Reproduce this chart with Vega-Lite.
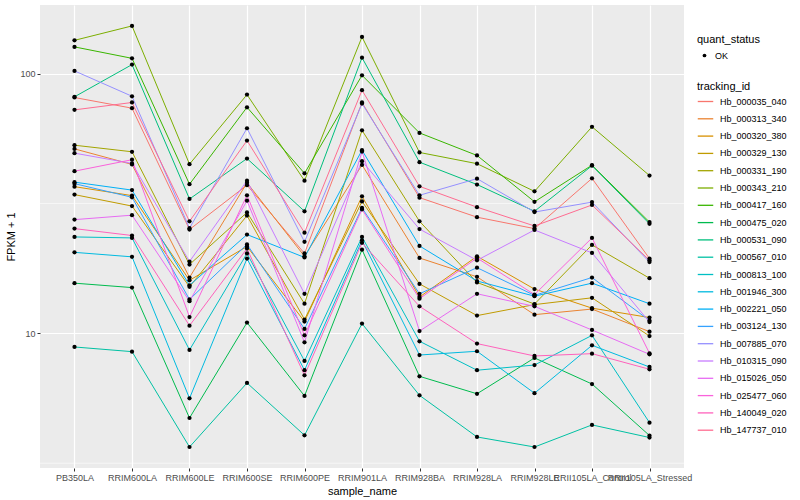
{
"$schema":"https://vega.github.io/schema/vega-lite/v6.json",
"width":644,"height":463,
"autosize":{"type":"none"},
"padding":{"left":40,"top":5,"right":116,"bottom":32},
"config":{"view":{"fill":"#EBEBEB","stroke":null},"font":"Liberation Sans",
"axis":{"domain":false,"grid":true,"gridColor":"#FFFFFF","gridWidth":1.2,"tickColor":"#333333","tickSize":3,"labelColor":"#4D4D4D","labelFontSize":9,"titleFontSize":11,"titleFontWeight":"normal","titleColor":"#000000"},
"legend":{"titleFontSize":11,"titleFontWeight":"normal","labelFontSize":9,"labelColor":"#000000","titleColor":"#000000","labelOffset":6}},
"datasets":{"d":[
{"tracking_id":"Hb_000035_040","sample_name":"PB350LA","fpkm":80.9,"quant_status":"OK"},
{"tracking_id":"Hb_000035_040","sample_name":"RRIM600LA","fpkm":73.6,"quant_status":"OK"},
{"tracking_id":"Hb_000035_040","sample_name":"RRIM600LE","fpkm":25.1,"quant_status":"OK"},
{"tracking_id":"Hb_000035_040","sample_name":"RRIM600SE","fpkm":37.2,"quant_status":"OK"},
{"tracking_id":"Hb_000035_040","sample_name":"RRIM600PE","fpkm":20.3,"quant_status":"OK"},
{"tracking_id":"Hb_000035_040","sample_name":"RRIM901LA","fpkm":77.4,"quant_status":"OK"},
{"tracking_id":"Hb_000035_040","sample_name":"RRIM928BA","fpkm":33.3,"quant_status":"OK"},
{"tracking_id":"Hb_000035_040","sample_name":"RRIM928LA","fpkm":28.0,"quant_status":"OK"},
{"tracking_id":"Hb_000035_040","sample_name":"RRIM928LE","fpkm":25.3,"quant_status":"OK"},
{"tracking_id":"Hb_000035_040","sample_name":"RRII105LA_Control","fpkm":39.5,"quant_status":"OK"},
{"tracking_id":"Hb_000035_040","sample_name":"RRII105LA_Stressed","fpkm":19.4,"quant_status":"OK"},
{"tracking_id":"Hb_000313_340","sample_name":"PB350LA","fpkm":51.3,"quant_status":"OK"},
{"tracking_id":"Hb_000313_340","sample_name":"RRIM600LA","fpkm":44.7,"quant_status":"OK"},
{"tracking_id":"Hb_000313_340","sample_name":"RRIM600LE","fpkm":16.4,"quant_status":"OK"},
{"tracking_id":"Hb_000313_340","sample_name":"RRIM600SE","fpkm":38.0,"quant_status":"OK"},
{"tracking_id":"Hb_000313_340","sample_name":"RRIM600PE","fpkm":19.8,"quant_status":"OK"},
{"tracking_id":"Hb_000313_340","sample_name":"RRIM901LA","fpkm":44.5,"quant_status":"OK"},
{"tracking_id":"Hb_000313_340","sample_name":"RRIM928BA","fpkm":19.5,"quant_status":"OK"},
{"tracking_id":"Hb_000313_340","sample_name":"RRIM928LA","fpkm":16.5,"quant_status":"OK"},
{"tracking_id":"Hb_000313_340","sample_name":"RRIM928LE","fpkm":11.8,"quant_status":"OK"},
{"tracking_id":"Hb_000313_340","sample_name":"RRII105LA_Control","fpkm":12.4,"quant_status":"OK"},
{"tracking_id":"Hb_000313_340","sample_name":"RRII105LA_Stressed","fpkm":10.15,"quant_status":"OK"},
{"tracking_id":"Hb_000320_380","sample_name":"PB350LA","fpkm":36.7,"quant_status":"OK"},
{"tracking_id":"Hb_000320_380","sample_name":"RRIM600LA","fpkm":33.9,"quant_status":"OK"},
{"tracking_id":"Hb_000320_380","sample_name":"RRIM600LE","fpkm":16.0,"quant_status":"OK"},
{"tracking_id":"Hb_000320_380","sample_name":"RRIM600SE","fpkm":21.6,"quant_status":"OK"},
{"tracking_id":"Hb_000320_380","sample_name":"RRIM600PE","fpkm":11.1,"quant_status":"OK"},
{"tracking_id":"Hb_000320_380","sample_name":"RRIM901LA","fpkm":33.7,"quant_status":"OK"},
{"tracking_id":"Hb_000320_380","sample_name":"RRIM928BA","fpkm":13.8,"quant_status":"OK"},
{"tracking_id":"Hb_000320_380","sample_name":"RRIM928LA","fpkm":19.8,"quant_status":"OK"},
{"tracking_id":"Hb_000320_380","sample_name":"RRIM928LE","fpkm":14.8,"quant_status":"OK"},
{"tracking_id":"Hb_000320_380","sample_name":"RRII105LA_Control","fpkm":12.5,"quant_status":"OK"},
{"tracking_id":"Hb_000320_380","sample_name":"RRII105LA_Stressed","fpkm":11.5,"quant_status":"OK"},
{"tracking_id":"Hb_000329_130","sample_name":"PB350LA","fpkm":34.2,"quant_status":"OK"},
{"tracking_id":"Hb_000329_130","sample_name":"RRIM600LA","fpkm":30.9,"quant_status":"OK"},
{"tracking_id":"Hb_000329_130","sample_name":"RRIM600LE","fpkm":15.1,"quant_status":"OK"},
{"tracking_id":"Hb_000329_130","sample_name":"RRIM600SE","fpkm":28.4,"quant_status":"OK"},
{"tracking_id":"Hb_000329_130","sample_name":"RRIM600PE","fpkm":11.3,"quant_status":"OK"},
{"tracking_id":"Hb_000329_130","sample_name":"RRIM901LA","fpkm":32.2,"quant_status":"OK"},
{"tracking_id":"Hb_000329_130","sample_name":"RRIM928BA","fpkm":15.5,"quant_status":"OK"},
{"tracking_id":"Hb_000329_130","sample_name":"RRIM928LA","fpkm":11.7,"quant_status":"OK"},
{"tracking_id":"Hb_000329_130","sample_name":"RRIM928LE","fpkm":12.9,"quant_status":"OK"},
{"tracking_id":"Hb_000329_130","sample_name":"RRII105LA_Control","fpkm":13.7,"quant_status":"OK"},
{"tracking_id":"Hb_000329_130","sample_name":"RRII105LA_Stressed","fpkm":9.76,"quant_status":"OK"},
{"tracking_id":"Hb_000331_190","sample_name":"PB350LA","fpkm":53.0,"quant_status":"OK"},
{"tracking_id":"Hb_000331_190","sample_name":"RRIM600LA","fpkm":50.0,"quant_status":"OK"},
{"tracking_id":"Hb_000331_190","sample_name":"RRIM600LE","fpkm":18.4,"quant_status":"OK"},
{"tracking_id":"Hb_000331_190","sample_name":"RRIM600SE","fpkm":29.2,"quant_status":"OK"},
{"tracking_id":"Hb_000331_190","sample_name":"RRIM600PE","fpkm":13.0,"quant_status":"OK"},
{"tracking_id":"Hb_000331_190","sample_name":"RRIM901LA","fpkm":60.5,"quant_status":"OK"},
{"tracking_id":"Hb_000331_190","sample_name":"RRIM928BA","fpkm":27.0,"quant_status":"OK"},
{"tracking_id":"Hb_000331_190","sample_name":"RRIM928LA","fpkm":15.7,"quant_status":"OK"},
{"tracking_id":"Hb_000331_190","sample_name":"RRIM928LE","fpkm":12.96,"quant_status":"OK"},
{"tracking_id":"Hb_000331_190","sample_name":"RRII105LA_Control","fpkm":21.9,"quant_status":"OK"},
{"tracking_id":"Hb_000331_190","sample_name":"RRII105LA_Stressed","fpkm":16.3,"quant_status":"OK"},
{"tracking_id":"Hb_000343_210","sample_name":"PB350LA","fpkm":134.3,"quant_status":"OK"},
{"tracking_id":"Hb_000343_210","sample_name":"RRIM600LA","fpkm":152.6,"quant_status":"OK"},
{"tracking_id":"Hb_000343_210","sample_name":"RRIM600LE","fpkm":44.8,"quant_status":"OK"},
{"tracking_id":"Hb_000343_210","sample_name":"RRIM600SE","fpkm":83.0,"quant_status":"OK"},
{"tracking_id":"Hb_000343_210","sample_name":"RRIM600PE","fpkm":38.7,"quant_status":"OK"},
{"tracking_id":"Hb_000343_210","sample_name":"RRIM901LA","fpkm":138.4,"quant_status":"OK"},
{"tracking_id":"Hb_000343_210","sample_name":"RRIM928BA","fpkm":49.7,"quant_status":"OK"},
{"tracking_id":"Hb_000343_210","sample_name":"RRIM928LA","fpkm":45.0,"quant_status":"OK"},
{"tracking_id":"Hb_000343_210","sample_name":"RRIM928LE","fpkm":35.2,"quant_status":"OK"},
{"tracking_id":"Hb_000343_210","sample_name":"RRII105LA_Control","fpkm":62.4,"quant_status":"OK"},
{"tracking_id":"Hb_000343_210","sample_name":"RRII105LA_Stressed","fpkm":40.5,"quant_status":"OK"},
{"tracking_id":"Hb_000417_160","sample_name":"PB350LA","fpkm":126.7,"quant_status":"OK"},
{"tracking_id":"Hb_000417_160","sample_name":"RRIM600LA","fpkm":114.5,"quant_status":"OK"},
{"tracking_id":"Hb_000417_160","sample_name":"RRIM600LE","fpkm":37.5,"quant_status":"OK"},
{"tracking_id":"Hb_000417_160","sample_name":"RRIM600SE","fpkm":74.2,"quant_status":"OK"},
{"tracking_id":"Hb_000417_160","sample_name":"RRIM600PE","fpkm":41.3,"quant_status":"OK"},
{"tracking_id":"Hb_000417_160","sample_name":"RRIM901LA","fpkm":98.5,"quant_status":"OK"},
{"tracking_id":"Hb_000417_160","sample_name":"RRIM928BA","fpkm":59.1,"quant_status":"OK"},
{"tracking_id":"Hb_000417_160","sample_name":"RRIM928LA","fpkm":48.4,"quant_status":"OK"},
{"tracking_id":"Hb_000417_160","sample_name":"RRIM928LE","fpkm":32.1,"quant_status":"OK"},
{"tracking_id":"Hb_000417_160","sample_name":"RRII105LA_Control","fpkm":44.4,"quant_status":"OK"},
{"tracking_id":"Hb_000417_160","sample_name":"RRII105LA_Stressed","fpkm":26.8,"quant_status":"OK"},
{"tracking_id":"Hb_000475_020","sample_name":"PB350LA","fpkm":15.6,"quant_status":"OK"},
{"tracking_id":"Hb_000475_020","sample_name":"RRIM600LA","fpkm":15.0,"quant_status":"OK"},
{"tracking_id":"Hb_000475_020","sample_name":"RRIM600LE","fpkm":4.72,"quant_status":"OK"},
{"tracking_id":"Hb_000475_020","sample_name":"RRIM600SE","fpkm":11.0,"quant_status":"OK"},
{"tracking_id":"Hb_000475_020","sample_name":"RRIM600PE","fpkm":5.74,"quant_status":"OK"},
{"tracking_id":"Hb_000475_020","sample_name":"RRIM901LA","fpkm":21.0,"quant_status":"OK"},
{"tracking_id":"Hb_000475_020","sample_name":"RRIM928BA","fpkm":6.83,"quant_status":"OK"},
{"tracking_id":"Hb_000475_020","sample_name":"RRIM928LA","fpkm":5.85,"quant_status":"OK"},
{"tracking_id":"Hb_000475_020","sample_name":"RRIM928LE","fpkm":8.04,"quant_status":"OK"},
{"tracking_id":"Hb_000475_020","sample_name":"RRII105LA_Control","fpkm":6.38,"quant_status":"OK"},
{"tracking_id":"Hb_000475_020","sample_name":"RRII105LA_Stressed","fpkm":4.04,"quant_status":"OK"},
{"tracking_id":"Hb_000531_090","sample_name":"PB350LA","fpkm":81.4,"quant_status":"OK"},
{"tracking_id":"Hb_000531_090","sample_name":"RRIM600LA","fpkm":108.3,"quant_status":"OK"},
{"tracking_id":"Hb_000531_090","sample_name":"RRIM600LE","fpkm":32.9,"quant_status":"OK"},
{"tracking_id":"Hb_000531_090","sample_name":"RRIM600SE","fpkm":47.1,"quant_status":"OK"},
{"tracking_id":"Hb_000531_090","sample_name":"RRIM600PE","fpkm":29.5,"quant_status":"OK"},
{"tracking_id":"Hb_000531_090","sample_name":"RRIM901LA","fpkm":115.2,"quant_status":"OK"},
{"tracking_id":"Hb_000531_090","sample_name":"RRIM928BA","fpkm":45.6,"quant_status":"OK"},
{"tracking_id":"Hb_000531_090","sample_name":"RRIM928LA","fpkm":37.4,"quant_status":"OK"},
{"tracking_id":"Hb_000531_090","sample_name":"RRIM928LE","fpkm":29.5,"quant_status":"OK"},
{"tracking_id":"Hb_000531_090","sample_name":"RRII105LA_Control","fpkm":44.2,"quant_status":"OK"},
{"tracking_id":"Hb_000531_090","sample_name":"RRII105LA_Stressed","fpkm":26.4,"quant_status":"OK"},
{"tracking_id":"Hb_000567_010","sample_name":"PB350LA","fpkm":8.86,"quant_status":"OK"},
{"tracking_id":"Hb_000567_010","sample_name":"RRIM600LA","fpkm":8.50,"quant_status":"OK"},
{"tracking_id":"Hb_000567_010","sample_name":"RRIM600LE","fpkm":3.65,"quant_status":"OK"},
{"tracking_id":"Hb_000567_010","sample_name":"RRIM600SE","fpkm":6.44,"quant_status":"OK"},
{"tracking_id":"Hb_000567_010","sample_name":"RRIM600PE","fpkm":4.05,"quant_status":"OK"},
{"tracking_id":"Hb_000567_010","sample_name":"RRIM901LA","fpkm":10.9,"quant_status":"OK"},
{"tracking_id":"Hb_000567_010","sample_name":"RRIM928BA","fpkm":5.77,"quant_status":"OK"},
{"tracking_id":"Hb_000567_010","sample_name":"RRIM928LA","fpkm":3.99,"quant_status":"OK"},
{"tracking_id":"Hb_000567_010","sample_name":"RRIM928LE","fpkm":3.65,"quant_status":"OK"},
{"tracking_id":"Hb_000567_010","sample_name":"RRII105LA_Control","fpkm":4.44,"quant_status":"OK"},
{"tracking_id":"Hb_000567_010","sample_name":"RRII105LA_Stressed","fpkm":3.97,"quant_status":"OK"},
{"tracking_id":"Hb_000813_100","sample_name":"PB350LA","fpkm":23.5,"quant_status":"OK"},
{"tracking_id":"Hb_000813_100","sample_name":"RRIM600LA","fpkm":23.3,"quant_status":"OK"},
{"tracking_id":"Hb_000813_100","sample_name":"RRIM600LE","fpkm":8.63,"quant_status":"OK"},
{"tracking_id":"Hb_000813_100","sample_name":"RRIM600SE","fpkm":20.3,"quant_status":"OK"},
{"tracking_id":"Hb_000813_100","sample_name":"RRIM600PE","fpkm":7.83,"quant_status":"OK"},
{"tracking_id":"Hb_000813_100","sample_name":"RRIM901LA","fpkm":23.5,"quant_status":"OK"},
{"tracking_id":"Hb_000813_100","sample_name":"RRIM928BA","fpkm":9.32,"quant_status":"OK"},
{"tracking_id":"Hb_000813_100","sample_name":"RRIM928LA","fpkm":7.21,"quant_status":"OK"},
{"tracking_id":"Hb_000813_100","sample_name":"RRIM928LE","fpkm":7.55,"quant_status":"OK"},
{"tracking_id":"Hb_000813_100","sample_name":"RRII105LA_Control","fpkm":9.82,"quant_status":"OK"},
{"tracking_id":"Hb_000813_100","sample_name":"RRII105LA_Stressed","fpkm":4.53,"quant_status":"OK"},
{"tracking_id":"Hb_001946_300","sample_name":"PB350LA","fpkm":20.5,"quant_status":"OK"},
{"tracking_id":"Hb_001946_300","sample_name":"RRIM600LA","fpkm":19.7,"quant_status":"OK"},
{"tracking_id":"Hb_001946_300","sample_name":"RRIM600LE","fpkm":5.62,"quant_status":"OK"},
{"tracking_id":"Hb_001946_300","sample_name":"RRIM600SE","fpkm":19.4,"quant_status":"OK"},
{"tracking_id":"Hb_001946_300","sample_name":"RRIM600PE","fpkm":7.21,"quant_status":"OK"},
{"tracking_id":"Hb_001946_300","sample_name":"RRIM901LA","fpkm":22.8,"quant_status":"OK"},
{"tracking_id":"Hb_001946_300","sample_name":"RRIM928BA","fpkm":8.25,"quant_status":"OK"},
{"tracking_id":"Hb_001946_300","sample_name":"RRIM928LA","fpkm":8.53,"quant_status":"OK"},
{"tracking_id":"Hb_001946_300","sample_name":"RRIM928LE","fpkm":5.88,"quant_status":"OK"},
{"tracking_id":"Hb_001946_300","sample_name":"RRII105LA_Control","fpkm":8.99,"quant_status":"OK"},
{"tracking_id":"Hb_001946_300","sample_name":"RRII105LA_Stressed","fpkm":7.42,"quant_status":"OK"},
{"tracking_id":"Hb_002221_050","sample_name":"PB350LA","fpkm":38.2,"quant_status":"OK"},
{"tracking_id":"Hb_002221_050","sample_name":"RRIM600LA","fpkm":35.6,"quant_status":"OK"},
{"tracking_id":"Hb_002221_050","sample_name":"RRIM600LE","fpkm":15.3,"quant_status":"OK"},
{"tracking_id":"Hb_002221_050","sample_name":"RRIM600SE","fpkm":24.0,"quant_status":"OK"},
{"tracking_id":"Hb_002221_050","sample_name":"RRIM600PE","fpkm":19.6,"quant_status":"OK"},
{"tracking_id":"Hb_002221_050","sample_name":"RRIM901LA","fpkm":50.7,"quant_status":"OK"},
{"tracking_id":"Hb_002221_050","sample_name":"RRIM928BA","fpkm":21.7,"quant_status":"OK"},
{"tracking_id":"Hb_002221_050","sample_name":"RRIM928LA","fpkm":15.9,"quant_status":"OK"},
{"tracking_id":"Hb_002221_050","sample_name":"RRIM928LE","fpkm":13.9,"quant_status":"OK"},
{"tracking_id":"Hb_002221_050","sample_name":"RRII105LA_Control","fpkm":15.6,"quant_status":"OK"},
{"tracking_id":"Hb_002221_050","sample_name":"RRII105LA_Stressed","fpkm":13.0,"quant_status":"OK"},
{"tracking_id":"Hb_003124_130","sample_name":"PB350LA","fpkm":37.7,"quant_status":"OK"},
{"tracking_id":"Hb_003124_130","sample_name":"RRIM600LA","fpkm":33.4,"quant_status":"OK"},
{"tracking_id":"Hb_003124_130","sample_name":"RRIM600LE","fpkm":13.5,"quant_status":"OK"},
{"tracking_id":"Hb_003124_130","sample_name":"RRIM600SE","fpkm":22.0,"quant_status":"OK"},
{"tracking_id":"Hb_003124_130","sample_name":"RRIM600PE","fpkm":10.4,"quant_status":"OK"},
{"tracking_id":"Hb_003124_130","sample_name":"RRIM901LA","fpkm":30.4,"quant_status":"OK"},
{"tracking_id":"Hb_003124_130","sample_name":"RRIM928BA","fpkm":14.2,"quant_status":"OK"},
{"tracking_id":"Hb_003124_130","sample_name":"RRIM928LA","fpkm":17.9,"quant_status":"OK"},
{"tracking_id":"Hb_003124_130","sample_name":"RRIM928LE","fpkm":14.0,"quant_status":"OK"},
{"tracking_id":"Hb_003124_130","sample_name":"RRII105LA_Control","fpkm":16.4,"quant_status":"OK"},
{"tracking_id":"Hb_003124_130","sample_name":"RRII105LA_Stressed","fpkm":11.2,"quant_status":"OK"},
{"tracking_id":"Hb_007885_070","sample_name":"PB350LA","fpkm":102.4,"quant_status":"OK"},
{"tracking_id":"Hb_007885_070","sample_name":"RRIM600LA","fpkm":81.8,"quant_status":"OK"},
{"tracking_id":"Hb_007885_070","sample_name":"RRIM600LE","fpkm":25.4,"quant_status":"OK"},
{"tracking_id":"Hb_007885_070","sample_name":"RRIM600SE","fpkm":61.6,"quant_status":"OK"},
{"tracking_id":"Hb_007885_070","sample_name":"RRIM600PE","fpkm":22.5,"quant_status":"OK"},
{"tracking_id":"Hb_007885_070","sample_name":"RRIM901LA","fpkm":76.7,"quant_status":"OK"},
{"tracking_id":"Hb_007885_070","sample_name":"RRIM928BA","fpkm":34.0,"quant_status":"OK"},
{"tracking_id":"Hb_007885_070","sample_name":"RRIM928LA","fpkm":39.4,"quant_status":"OK"},
{"tracking_id":"Hb_007885_070","sample_name":"RRIM928LE","fpkm":29.3,"quant_status":"OK"},
{"tracking_id":"Hb_007885_070","sample_name":"RRII105LA_Control","fpkm":32.0,"quant_status":"OK"},
{"tracking_id":"Hb_007885_070","sample_name":"RRII105LA_Stressed","fpkm":18.8,"quant_status":"OK"},
{"tracking_id":"Hb_010315_090","sample_name":"PB350LA","fpkm":49.4,"quant_status":"OK"},
{"tracking_id":"Hb_010315_090","sample_name":"RRIM600LA","fpkm":45.1,"quant_status":"OK"},
{"tracking_id":"Hb_010315_090","sample_name":"RRIM600LE","fpkm":18.9,"quant_status":"OK"},
{"tracking_id":"Hb_010315_090","sample_name":"RRIM600SE","fpkm":38.7,"quant_status":"OK"},
{"tracking_id":"Hb_010315_090","sample_name":"RRIM600PE","fpkm":14.2,"quant_status":"OK"},
{"tracking_id":"Hb_010315_090","sample_name":"RRIM901LA","fpkm":46.0,"quant_status":"OK"},
{"tracking_id":"Hb_010315_090","sample_name":"RRIM928BA","fpkm":25.2,"quant_status":"OK"},
{"tracking_id":"Hb_010315_090","sample_name":"RRIM928LA","fpkm":19.1,"quant_status":"OK"},
{"tracking_id":"Hb_010315_090","sample_name":"RRIM928LE","fpkm":25.0,"quant_status":"OK"},
{"tracking_id":"Hb_010315_090","sample_name":"RRII105LA_Control","fpkm":20.4,"quant_status":"OK"},
{"tracking_id":"Hb_010315_090","sample_name":"RRII105LA_Stressed","fpkm":11.05,"quant_status":"OK"},
{"tracking_id":"Hb_015026_050","sample_name":"PB350LA","fpkm":27.4,"quant_status":"OK"},
{"tracking_id":"Hb_015026_050","sample_name":"RRIM600LA","fpkm":28.5,"quant_status":"OK"},
{"tracking_id":"Hb_015026_050","sample_name":"RRIM600LE","fpkm":13.3,"quant_status":"OK"},
{"tracking_id":"Hb_015026_050","sample_name":"RRIM600SE","fpkm":32.4,"quant_status":"OK"},
{"tracking_id":"Hb_015026_050","sample_name":"RRIM600PE","fpkm":9.23,"quant_status":"OK"},
{"tracking_id":"Hb_015026_050","sample_name":"RRIM901LA","fpkm":50.1,"quant_status":"OK"},
{"tracking_id":"Hb_015026_050","sample_name":"RRIM928BA","fpkm":10.2,"quant_status":"OK"},
{"tracking_id":"Hb_015026_050","sample_name":"RRIM928LA","fpkm":14.2,"quant_status":"OK"},
{"tracking_id":"Hb_015026_050","sample_name":"RRIM928LE","fpkm":12.7,"quant_status":"OK"},
{"tracking_id":"Hb_015026_050","sample_name":"RRII105LA_Control","fpkm":10.3,"quant_status":"OK"},
{"tracking_id":"Hb_015026_050","sample_name":"RRII105LA_Stressed","fpkm":8.30,"quant_status":"OK"},
{"tracking_id":"Hb_025477_060","sample_name":"PB350LA","fpkm":42.1,"quant_status":"OK"},
{"tracking_id":"Hb_025477_060","sample_name":"RRIM600LA","fpkm":46.6,"quant_status":"OK"},
{"tracking_id":"Hb_025477_060","sample_name":"RRIM600LE","fpkm":11.55,"quant_status":"OK"},
{"tracking_id":"Hb_025477_060","sample_name":"RRIM600SE","fpkm":34.0,"quant_status":"OK"},
{"tracking_id":"Hb_025477_060","sample_name":"RRIM600PE","fpkm":9.82,"quant_status":"OK"},
{"tracking_id":"Hb_025477_060","sample_name":"RRIM901LA","fpkm":30.0,"quant_status":"OK"},
{"tracking_id":"Hb_025477_060","sample_name":"RRIM928BA","fpkm":13.6,"quant_status":"OK"},
{"tracking_id":"Hb_025477_060","sample_name":"RRIM928LA","fpkm":19.5,"quant_status":"OK"},
{"tracking_id":"Hb_025477_060","sample_name":"RRIM928LE","fpkm":14.1,"quant_status":"OK"},
{"tracking_id":"Hb_025477_060","sample_name":"RRII105LA_Control","fpkm":23.3,"quant_status":"OK"},
{"tracking_id":"Hb_025477_060","sample_name":"RRII105LA_Stressed","fpkm":8.38,"quant_status":"OK"},
{"tracking_id":"Hb_140049_020","sample_name":"PB350LA","fpkm":25.3,"quant_status":"OK"},
{"tracking_id":"Hb_140049_020","sample_name":"RRIM600LA","fpkm":23.8,"quant_status":"OK"},
{"tracking_id":"Hb_140049_020","sample_name":"RRIM600LE","fpkm":10.7,"quant_status":"OK"},
{"tracking_id":"Hb_140049_020","sample_name":"RRIM600SE","fpkm":21.2,"quant_status":"OK"},
{"tracking_id":"Hb_140049_020","sample_name":"RRIM600PE","fpkm":6.89,"quant_status":"OK"},
{"tracking_id":"Hb_140049_020","sample_name":"RRIM901LA","fpkm":22.3,"quant_status":"OK"},
{"tracking_id":"Hb_140049_020","sample_name":"RRIM928BA","fpkm":12.7,"quant_status":"OK"},
{"tracking_id":"Hb_140049_020","sample_name":"RRIM928LA","fpkm":9.13,"quant_status":"OK"},
{"tracking_id":"Hb_140049_020","sample_name":"RRIM928LE","fpkm":8.18,"quant_status":"OK"},
{"tracking_id":"Hb_140049_020","sample_name":"RRII105LA_Control","fpkm":8.35,"quant_status":"OK"},
{"tracking_id":"Hb_140049_020","sample_name":"RRII105LA_Stressed","fpkm":7.27,"quant_status":"OK"},
{"tracking_id":"Hb_147737_010","sample_name":"PB350LA","fpkm":72.5,"quant_status":"OK"},
{"tracking_id":"Hb_147737_010","sample_name":"RRIM600LA","fpkm":77.4,"quant_status":"OK"},
{"tracking_id":"Hb_147737_010","sample_name":"RRIM600LE","fpkm":27.0,"quant_status":"OK"},
{"tracking_id":"Hb_147737_010","sample_name":"RRIM600SE","fpkm":55.2,"quant_status":"OK"},
{"tracking_id":"Hb_147737_010","sample_name":"RRIM600PE","fpkm":24.4,"quant_status":"OK"},
{"tracking_id":"Hb_147737_010","sample_name":"RRIM901LA","fpkm":86.3,"quant_status":"OK"},
{"tracking_id":"Hb_147737_010","sample_name":"RRIM928BA","fpkm":36.8,"quant_status":"OK"},
{"tracking_id":"Hb_147737_010","sample_name":"RRIM928LA","fpkm":30.6,"quant_status":"OK"},
{"tracking_id":"Hb_147737_010","sample_name":"RRIM928LE","fpkm":25.9,"quant_status":"OK"},
{"tracking_id":"Hb_147737_010","sample_name":"RRII105LA_Control","fpkm":31.2,"quant_status":"OK"},
{"tracking_id":"Hb_147737_010","sample_name":"RRII105LA_Stressed","fpkm":19.1,"quant_status":"OK"}
],
"minor":[{"break":3.162},{"break":31.62}]},
"layer":[
{"data":{"name":"minor"},"mark":{"type":"rule","color":"#FFFFFF","strokeWidth":0.6},
 "encoding":{"y":{"field":"break","type":"quantitative","scale":{"type":"log","domain":[3.03,183.7],"nice":false,"zero":false}}}},
{"data":{"name":"d"},"mark":{"type":"line","strokeWidth":1},
 "encoding":{
  "x":{"field":"sample_name","type":"nominal","sort":null,"scale":{"type":"point","padding":0.6,"domain":["PB350LA","RRIM600LA","RRIM600LE","RRIM600SE","RRIM600PE","RRIM901LA","RRIM928BA","RRIM928LA","RRIM928LE","RRII105LA_Control","RRII105LA_Stressed"]},
   "axis":{"title":"sample_name","labelAngle":0,"labelOverlap":false,"labelPadding":2,"titlePadding":3}},
  "y":{"field":"fpkm","type":"quantitative","scale":{"type":"log","domain":[3.03,183.7],"nice":false,"zero":false},
   "axis":{"title":"FPKM + 1","values":[10,100],"format":"d","labelPadding":2,"titlePadding":3}},
  "color":{"field":"tracking_id","type":"nominal","scale":{"range":["#F8766D","#EA8331","#D89000","#C09B00","#A3A500","#7CAE00","#39B600","#00BB4E","#00BF7D","#00C1A3","#00BFC4","#00BAE0","#00B0F6","#35A2FF","#9590FF","#C77CFF","#E76BF3","#FA62DB","#FF62BC","#FF6C91"]},
   "legend":{"title":"tracking_id","orient":"none","legendX":657,"legendY":76,"symbolType":"stroke","symbolSize":240,"symbolStrokeWidth":1.3,"rowPadding":3.3,"titlePadding":1}},
  "order":{"value":null}}},
{"data":{"name":"d"},"mark":{"type":"point","filled":true,"color":"#000000","opacity":1,"size":18},
 "encoding":{
  "x":{"field":"sample_name","type":"nominal","sort":null},
  "y":{"field":"fpkm","type":"quantitative"},
  "shape":{"field":"quant_status","type":"nominal","scale":{"range":["circle"]},
   "legend":{"title":"quant_status","orient":"none","legendX":657,"legendY":29,"symbolFillColor":"#000000","symbolStrokeColor":"#000000","symbolSize":14,"titlePadding":6,"symbolOffset":3}}}}
]
}
